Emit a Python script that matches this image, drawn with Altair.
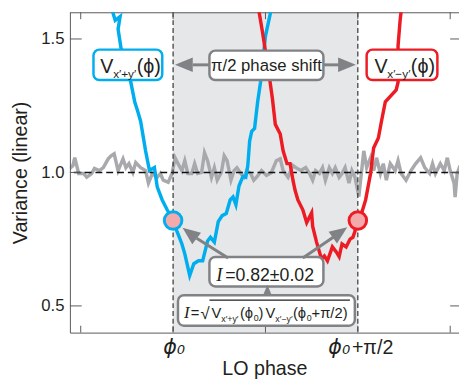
import altair as alt
import pandas as pd

# ---------------- data (phase in degrees relative to phi0, variance linear) ----------------
gray_phase = [-50.3,-48.8,-47.9,-46.0,-43.6,-42.1,-39.7,-38.3,-35.9,-34.0,-31.6,-30.2,-28.7,-26.8,-24.4,-23.0,-21.5,-19.6,-18.2,-15.8,-13.4,-12.0,-10.1,-7.7,-6.2,-4.8,-2.4,-0.5,1.0,2.4,4.3,5.7,7.2,9.1,10.5,12.0,13.9,15.3,16.8,18.7,20.1,21.5,23.5,24.9,26.3,28.2,29.7,31.1,33.0,34.5,35.9,37.8,39.3,40.7,43.1,45.5,47.9,50.3,52.2,53.6,56.0,58.4,59.8,62.2,64.6,66.5,68.0,69.4,71.3,72.8,74.2,76.1,77.6,79.0,80.9,82.3,83.8,85.7,87.1,88.6,90.5,92.9,94.3,96.2,97.7,99.1,101.0,102.4,103.9,105.8,108.2,109.6,111.1,113.5,115.9,118.2,120.6,122.6,125.0,126.4,127.8,130.2,132.1,133.6,135.0,136.9,137.4,138.4,139.8]
gray_var = [1.015,1.026,1.055,0.996,0.996,0.982,0.996,1.015,1.007,1.018,1.051,1.062,1.070,1.007,1.051,1.018,1.033,1.000,1.037,1.018,1.007,0.960,0.996,0.982,0.996,0.971,0.963,0.996,1.055,1.033,1.007,1.044,0.996,0.996,1.033,0.996,1.000,1.074,1.044,0.982,1.018,0.971,1.000,1.062,1.044,0.971,1.007,1.018,0.996,0.982,1.007,0.996,0.971,0.982,1.007,0.989,1.000,1.044,1.051,1.007,0.982,1.026,1.018,1.007,1.018,0.996,0.971,1.007,0.996,1.018,0.971,1.018,0.996,1.018,0.982,0.996,1.018,0.960,1.007,0.982,0.910,1.081,1.018,1.055,1.007,1.055,0.996,1.033,0.971,1.033,1.007,1.044,0.996,0.971,1.007,1.033,1.055,1.018,0.996,1.033,0.996,1.033,1.007,1.055,1.007,0.960,0.908,0.996,1.026]

blue_phase = [-30.6,-28.2,-25.8,-26.8,-25.4,-23.0,-20.6,-18.7,-17.2,-15.8,-13.4,-11.5,-9.1,-7.7,-5.3,-2.9,0.0,1.9,4.3,5.7,8.1,10.1,12.4,14.4,16.8,18.2,20.1,22.0,23.9,25.9,27.8,29.2,30.6,32.1,34.0,35.4,36.4,37.3,38.3,39.7,41.2,42.6,45.0,48.4]
blue_var = [1.632,1.570,1.584,1.537,1.467,1.412,1.338,1.265,1.228,1.191,1.081,1.007,1.018,0.945,0.897,0.860,0.820,0.779,0.732,0.695,0.614,0.658,0.669,0.669,0.743,0.757,0.739,0.816,0.838,0.846,0.897,0.908,0.879,0.949,0.985,0.982,1.026,1.118,1.154,1.165,1.265,1.338,1.511,1.632]

red_phase = [41.2,43.6,46.4,48.4,49.8,52.2,53.6,55.5,57.0,58.4,59.4,60.8,63.2,65.1,67.5,68.0,69.9,72.3,73.7,75.2,77.6,79.5,80.9,82.3,84.3,86.2,87.6,88.6,89.5,91.9,93.8,96.2,97.7,100.0,101.5,103.4,108.7,109.6,109.6,110.6,111.1,111.6]
red_var = [1.633,1.523,1.386,1.276,1.180,1.144,1.081,1.033,1.033,0.971,0.934,0.897,0.860,0.812,0.849,0.798,0.739,0.676,0.687,0.669,0.721,0.702,0.684,0.732,0.721,0.750,0.757,0.779,0.820,0.849,0.897,0.996,1.092,1.129,1.191,1.265,1.309,1.338,1.474,1.570,1.603,1.633]

marker_phase = [0.0, 90.0]
marker_var = [0.82, 0.82]
marker_color = ["#00aeef", "#ed1c24"]

shift_start = [0.0]
shift_end = [90.0]
y_ticks = [0.5, 1.0, 1.5]
x_ticks = [-45, 0, 45, 90, 135]

# ---------------- layout ----------------
X_MIN, X_MAX = -50.27, 139.29
Y_MIN, Y_MAX = 0.4, 1.6
W, H = 396, 326
LEFT, TOP = 71, 9  # page position of plot origin (for annotation placement)

BLUE, RED, GRAY, LGRAY = "#00aeef", "#ed1c24", "#808285", "#a7a9ac"
TXT, AX = "#231f20", "#58595b"
SANS = "Liberation Sans, DejaVu Sans"
SERIF = "Liberation Serif, DejaVu Serif"


def X(px):
    return X_MIN + (px - LEFT) * (X_MAX - X_MIN) / W


def Y(py):
    return Y_MAX - (py - TOP) * (Y_MAX - Y_MIN) / H


xs = alt.Scale(domain=[X_MIN, X_MAX], nice=False, zero=False)
ys = alt.Scale(domain=[Y_MIN, Y_MAX], nice=False, zero=False)

AXX = alt.Axis(labels=False, ticks=False, grid=False, domainColor=AX, domainWidth=1,
               title="LO phase", titleFontSize=20, titleFont=SANS,
               titleFontWeight="normal", titleColor=TXT, titlePadding=27, zindex=1)
AXY = alt.Axis(values=y_ticks, format=".1f", ticks=False, labelFontSize=17, labelFont=SANS,
               labelColor=TXT, labelPadding=6, domainColor=AX, domainWidth=1, grid=False,
               title="Variance (linear)", titleFontSize=20, titleFont=SANS,
               titleFontWeight="normal", titleColor=TXT, titlePadding=11, zindex=1)


def xe(f="x:Q"):
    return alt.X(f, scale=xs, axis=AXX, title="LO phase")


def ye(f="y:Q"):
    return alt.Y(f, scale=ys, axis=AXY, title="Variance (linear)")


# shaded region
shade = alt.Chart(pd.DataFrame({"x": shift_start, "x2": shift_end})).mark_rect(
    color="#e6e7e8").encode(x=xe(), x2="x2:Q", y=alt.value(0), y2=alt.value(H))

gray_df = pd.DataFrame({"x": gray_phase, "y": gray_var})
gray = alt.Chart(gray_df).mark_line(color=LGRAY, strokeWidth=3.5, clip=True).encode(
    x=xe(), y=ye())

hline = alt.Chart(pd.DataFrame({"y": [1.0]})).mark_rule(
    color="#111111", strokeWidth=1.4, strokeDash=[7, 4]).encode(y=ye())
vlines = alt.Chart(pd.DataFrame({"x": shift_start + shift_end})).mark_rule(
    color="#333333", strokeWidth=1.2, strokeDash=[5, 3]).encode(x=xe())


def curve(ph, va, col):
    df = pd.DataFrame({"x": ph, "y": va, "i": range(len(ph))})
    return alt.Chart(df).mark_line(color=col, strokeWidth=3.5, clip=True).encode(
        x=xe(), y=ye(), order="i:Q")


blue = curve(blue_phase, blue_var, BLUE)
red = curve(red_phase, red_var, RED)

# boxes (page-pixel layout converted to data units)
boxes = [
    (95, 47, 165, 78, BLUE),
    (373, 47, 445, 78, RED),
    (213, 48, 329, 78, GRAY),
    (213, 258, 329, 288, GRAY),
    (181, 297, 361, 328, GRAY),
]
bdf = pd.DataFrame([{"x": X(a), "x2": X(c), "y": Y(b), "y2": Y(d), "c": col}
                    for a, b, c, d, col in boxes])
box_layer = alt.Chart(bdf).mark_rect(fill="white", strokeWidth=2.5, cornerRadius=6).encode(
    x=xe(), x2="x2:Q", y=ye(), y2="y2:Q", stroke=alt.Stroke("c:N", scale=None))

# arrows
shafts = [
    (213, 62.5, 196, 62.5),
    (329, 62.5, 345, 62.5),
    (232, 259, 200, 239),
    (308, 259, 339, 238),
    (272, 297, 272, 292),
]
sdf = pd.DataFrame([{"x": X(a), "y": Y(b), "x2": X(c), "y2": Y(d)} for a, b, c, d in shafts])
shaft_layer = alt.Chart(sdf).mark_rule(color=GRAY, strokeWidth=3).encode(
    x=xe(), y=ye(), x2="x2:Q", y2="y2:Q")

ARROW = "M1,0L-1,-0.82L-1,0.82Z"
heads = [
    (187, 62.5, 180, 324),
    (353, 62.5, 0, 324),
    (192.8, 233.7, 217.2, 324),
    (345.9, 233.1, 324.6, 324),
    (272, 291, 270, 90),
]
hdf = pd.DataFrame([{"x": X(a), "y": Y(b), "a": ang, "s": sz} for a, b, ang, sz in heads])
head_layer = alt.Chart(hdf).mark_point(shape=ARROW, filled=True, color=GRAY, opacity=1).encode(
    x=xe(), y=ye(), angle=alt.Angle("a:Q", scale=None), size=alt.Size("s:Q", scale=None))

# square-root overline
over = alt.Chart(pd.DataFrame({"x": [X(213)], "x2": [X(356)], "y": [Y(302)]})).mark_rule(
    color=TXT, strokeWidth=1.2).encode(x=xe(), x2="x2:Q", y=ye())


def text_layer(rows, font, style="normal", align="left"):
    df = pd.DataFrame([{"x": X(a), "y": Y(b), "t": t, "s": s} for a, b, t, s in rows])
    return alt.Chart(df).mark_text(align=align, baseline="alphabetic", font=font,
                                   fontStyle=style, color=TXT).encode(
        x=xe(), y=ye(), text="t:N", size=alt.Size("s:Q", scale=None))


sans_rows = [
    (102, 71, "V", 20), (115, 76, "x\u2032+y\u2032", 12), (139, 71, "(\u03d5)", 20),
    (381, 71, "V", 20), (394, 76, "x\u2032\u2212y\u2032", 12), (418, 71, "(\u03d5)", 20),
    (229, 282, "=0.82\u00b10.02", 18),
    (194, 320, "=", 15), (204, 321, "\u221a", 17),
    (215, 320, "V", 15), (225, 324, "x\u2032+y\u2032", 9), (244, 320, "(\u03d5", 15),
    (258, 323, "0", 9), (263, 320, ")", 15),
    (270, 320, "V", 15), (280, 324, "x\u2032\u2212y\u2032", 9), (298, 320, "(\u03d5", 15),
    (312, 323, "0", 9), (317, 320, "+\u03c0/2)", 15),
    (358, 357, "+\u03c0/2", 20),
]
center_rows = [(271, 69, "\u03c0/2 phase shift", 17)]
serif_it_rows = [(220, 282, "I", 19), (187, 320, "I", 17)]
sans_it_rows = [(166, 357, "\u03d5\u2080", 21), (334, 357, "\u03d5\u2080", 21)]

t1 = text_layer(sans_rows, SANS)
t2 = text_layer(center_rows, SANS, align="center")
t3 = text_layer(serif_it_rows, SERIF, style="italic")
t4 = text_layer(sans_it_rows, "DejaVu Sans", style="italic")

markers = alt.Chart(pd.DataFrame({"x": marker_phase, "y": marker_var, "c": marker_color})).mark_point(
    shape="circle", filled=True, fill="#f4a9ab", strokeWidth=3, size=320, opacity=1).encode(
    x=xe(), y=ye(), stroke=alt.Stroke("c:N", scale=None))

# frame: top border and inward ticks
top_line = alt.Chart(pd.DataFrame({"x": [X_MIN]})).mark_rule(color=AX, strokeWidth=1).encode(
    x=xe(), y=alt.value(0.5), x2=alt.value(W))
ytk = pd.DataFrame({"y": y_ticks})
xtk = pd.DataFrame({"x": x_ticks})
tick_l = alt.Chart(ytk).mark_rule(color=AX).encode(y=ye(), x=alt.value(0), x2=alt.value(12))
tick_r = alt.Chart(ytk).mark_rule(color=AX).encode(y=ye(), x=alt.value(W - 9), x2=alt.value(W))
tick_t = alt.Chart(xtk).mark_rule(color=AX).encode(x=xe(), y=alt.value(0), y2=alt.value(7))
tick_b = alt.Chart(xtk).mark_rule(color=AX).encode(x=xe(), y=alt.value(H - 7), y2=alt.value(H))

chart = alt.layer(
    shade, gray, hline, vlines, tick_l, tick_r, tick_t, tick_b, top_line,
    blue, red, box_layer, shaft_layer, head_layer, over,
    t1, t2, t3, t4, markers,
).properties(
    width=W, height=H,
    autosize=alt.AutoSizeParams(type="none"),
    padding={"left": 63, "top": 1, "right": 0, "bottom": 52},
    background="white",
).configure_view(stroke=None)

chart.save("out.html", embed_options={"renderer": "svg", "actions": False})
